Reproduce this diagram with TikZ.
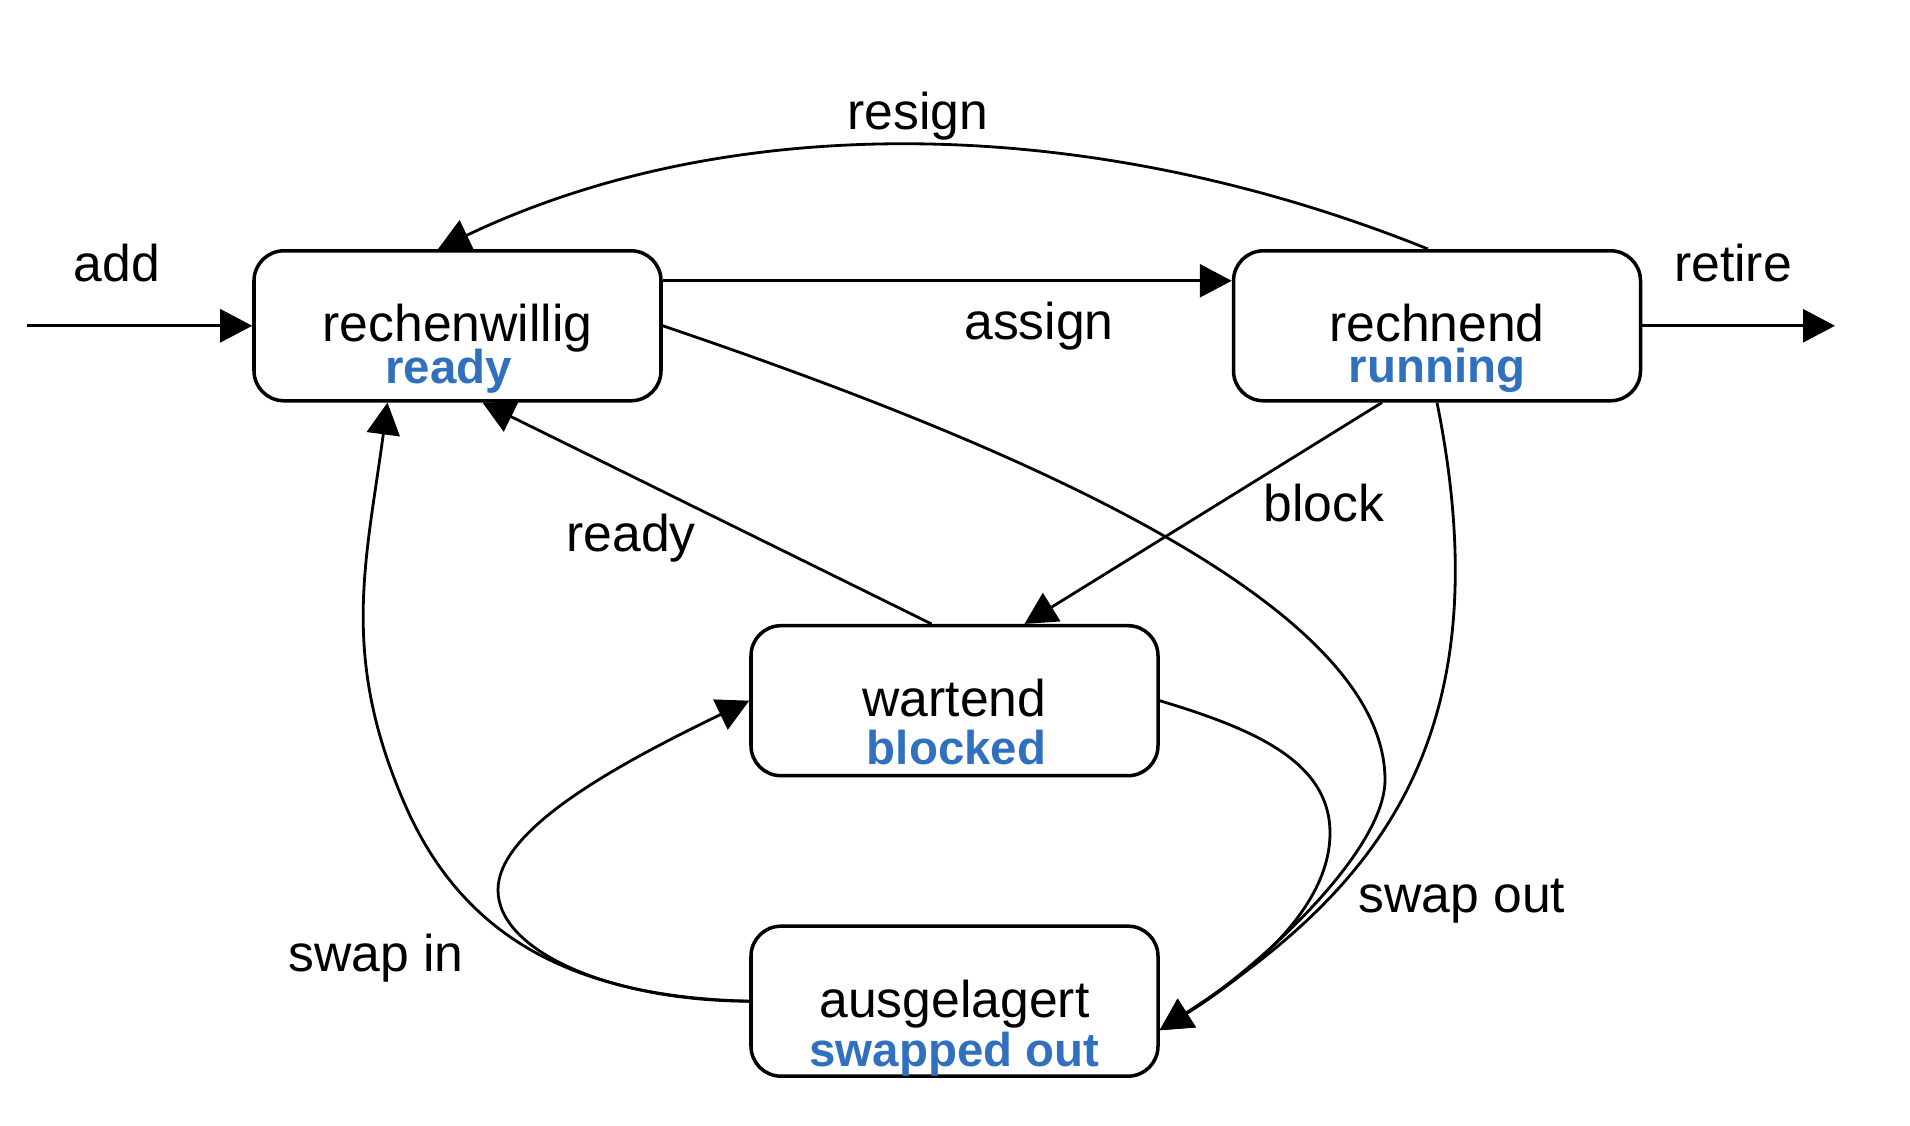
\documentclass[tikz,border=0pt]{standalone}
\usepackage{fontspec}
\setmainfont{Liberation Sans}
\usetikzlibrary{arrows.meta, positioning}
\definecolor{engblue}{HTML}{3070BF}
\tikzset{
  procstate/.style = {draw=black, fill=white, rounded corners=3mm,
                      line width=1pt, minimum width=4.07cm,
                      minimum height=1.5cm, inner sep=0pt},
  procname/.style  = {anchor=base, inner sep=0pt,
                      font=\fontsize{14.7}{17}\selectfont},
  proceng/.style   = {anchor=base, inner sep=0pt, text=engblue,
                      font=\fontsize{13.5}{16}\selectfont\bfseries},
  proctrans/.style = {draw=black, line width=0.8pt, line join=round,
                      -{Triangle[length=3.2mm, width=3.3mm]}},
  proclabel/.style = {anchor=base, inner sep=0pt,
                      font=\fontsize{14.7}{17}\selectfont},
}
\begin{document}
\begin{tikzpicture}[x=1cm, y=1cm]
      \useasboundingbox (0,0) rectangle (19.10,11.26);
      \node[procstate] (rw) at (4.575,8.002) {};
      \node[procstate] (rn) at (14.37,8.002) {};
      \node[procstate] (wt) at (9.545,4.253) {};
      \node[procstate] (ag) at (9.545,1.248) {};
      \foreach \s/\a/\b/\o/\d in {rw/rechenwillig/ready/0.575/-0.9, rn/rechnend/running/0.57/0,
                                  wt/wartend/blocked/0.635/0.2, ag/ausgelagert/swapped out/0.655/0}
        {\node[procname] (\s name) at ([yshift=-1.6mm]\s.center) {\a};
         \node[proceng]  (\s eng)  at ([xshift=\d mm, yshift=-\o cm]\s.center) {\b};}
      \coordinate (addin)  at (0.27,8.002);
      \coordinate (retout) at (18.35,8.002);
      \coordinate (agin)   at ([yshift=-2.9mm]ag.east);
      % transitions
      \draw[proctrans] (addin) -- (rw.west);
      \draw[proctrans] (rn.east) -- (retout);
      \draw[proctrans] ([yshift=4.5mm]rw.east) -- ([yshift=4.5mm]rn.west);
      \draw[proctrans] ([xshift=-0.9mm]rn.north) .. controls (10.85,10.15) and (7.27,10.15)
        .. ([xshift=-1.95mm]rw.north);
      \draw[proctrans] ([xshift=-5.5mm]rn.south) -- ([xshift=7mm]wt.north);
      \draw[proctrans] ([xshift=-2.3mm]wt.north) -- ([xshift=2.5mm]rw.south);
      \draw[proctrans] (ag.west) .. controls (5.70,1.29) and (4.60,1.91) .. (4.03,3.26)
        .. controls (3.40,4.73) and (3.665,5.66) .. ([xshift=-7mm]rw.south);
      \draw[proctrans] (ag.west) .. controls (6.11,1.25) and (4.98,1.75) .. (4.98,2.36)
        .. controls (4.98,2.96) and (6.14,3.60) .. (wt.west);
      \draw[proctrans] (wt.east) .. controls (12.50,3.98) and (13.30,3.66) .. (13.30,2.93)
        .. controls (13.30,2.16) and (12.45,1.49) .. (agin);
      \draw[proctrans] (rw.east) .. controls (10.00,6.86) and (13.85,5.26) .. (13.85,3.46)
        .. controls (13.85,2.76) and (12.615,1.60) .. (agin);
      \draw[proctrans] (rn.south) .. controls (15.05,3.86) and (13.75,2.36) .. (agin);
      % labels
      \node[proclabel] (addlab)     at (1.17,8.443)  {add};
      \node[proclabel] (resignlab)  at (9.18,9.96)   {resign};
      \node[proclabel] (assignlab)  at (10.39,7.86)  {assign};
      \node[proclabel] (retirelab)  at (17.33,8.443) {retire};
      \node[proclabel] (blocklab)   at (13.24,6.043) {block};
      \node[proclabel] (readylab)   at (6.31,5.743)  {ready};
      \node[proclabel] (swapoutlab) at (14.62,2.13)  {swap out};
      \node[proclabel] (swapinlab)  at (3.76,1.543)  {swap in};
    \end{tikzpicture}
\end{document}
